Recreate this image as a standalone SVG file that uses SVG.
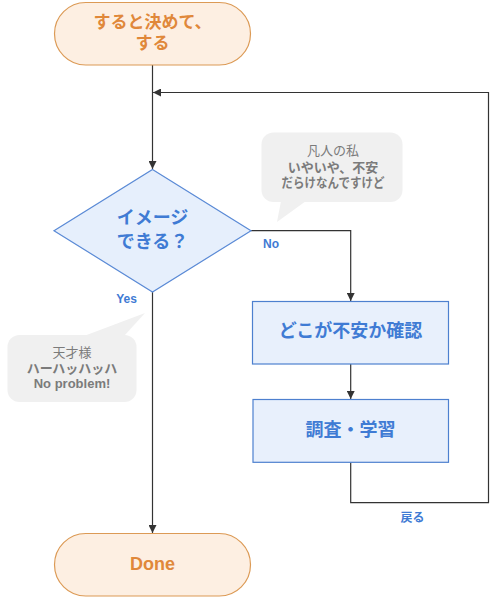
<svg xmlns="http://www.w3.org/2000/svg" width="493" height="601" viewBox="0 0 493 601">
<defs>
<style>
text{font-family:"Liberation Sans","Noto Sans CJK JP",sans-serif;text-anchor:middle;dominant-baseline:central}
.term{fill:#fdefe2;stroke:#dc9a55;stroke-width:1.2}
.termt{fill:#e0883a;font-weight:bold;font-size:17px}
.proc{fill:#e8f0fc;stroke:#4d80cf;stroke-width:1.2}
.proct{fill:#3f7bd4;font-weight:bold;font-size:18px}
.bub{fill:#f0f0f0}
.bt{fill:#7b7b7b;font-size:13px}
.bb{fill:#7b7b7b;font-size:13px;font-weight:bold}
.lbl{fill:#3f7bd4;font-weight:bold;font-size:12px}
.ln{fill:none;stroke:#333;stroke-width:1.2}
</style>
<marker id="ah" viewBox="0 0 10 10" refX="10" refY="5" markerWidth="8" markerHeight="8" markerUnits="userSpaceOnUse" orient="auto">
<path d="M0,0 L10,5 L0,10 z" fill="#333"/>
</marker>
</defs>

<g id="connectors">
<path class="ln" d="M152.5,65 V169" marker-end="url(#ah)"/>
<path class="ln" d="M152.5,292 V533" marker-end="url(#ah)"/>
<path class="ln" d="M251,230.7 H350.7 V301" marker-end="url(#ah)"/>
<path class="ln" d="M350.7,364 V399" marker-end="url(#ah)"/>
<path class="ln" d="M350.7,462.5 V502.7 H488.5 V92.5 H153" marker-end="url(#ah)"/>
<text class="lbl" x="271" y="244">No</text>
<text class="lbl" x="126.5" y="299">Yes</text>
<text class="lbl" x="412.5" y="518">戻る</text>
</g>

<g id="start">
<rect class="term" x="54.5" y="2.5" width="196" height="62.5" rx="31.25"/>
<text class="termt" x="152.5" y="22">すると決めて、</text>
<text class="termt" x="152.5" y="43.5">する</text>
</g>

<g id="decision">
<path d="M152.5,169.5 L251,230.7 L152.5,292 L54,230.7 z" fill="#e6effc" stroke="#5a8ad6" stroke-width="1.2"/>
<text class="proct" x="152.5" y="218">イメージ</text>
<text class="proct" x="152.5" y="242">できる？</text>
</g>

<g id="check">
<rect class="proc" x="252.5" y="301.5" width="196" height="62.5"/>
<text class="proct" x="350.5" y="331">どこが不安か確認</text>
</g>

<g id="study">
<rect class="proc" x="253" y="399.5" width="195.5" height="62.8"/>
<text class="proct" x="350.5" y="430">調査・学習</text>
</g>

<g id="done">
<rect class="term" x="54.5" y="533.5" width="196" height="62.5" rx="31.25"/>
<text class="termt" x="152.5" y="564" style="font-size:18px">Done</text>
</g>

<g id="bubble-normal">
<rect class="bub" x="261.5" y="132.5" width="141" height="69.5" rx="12"/>
<path class="bub" d="M281,201 L277,222 L306,201 z"/>
<text class="bt" x="333" y="150">凡人の私</text>
<text class="bb" x="333" y="167.5">いやいや、不安</text>
<text class="bb" x="333" y="182.5" textLength="103" lengthAdjust="spacingAndGlyphs">だらけなんですけど</text>
</g>

<g id="bubble-genius">
<rect class="bub" x="7.5" y="335" width="129" height="67" rx="12"/>
<path class="bub" d="M84,336 L145,313 L124,336 z"/>
<text class="bt" x="72" y="352">天才様</text>
<text class="bb" x="72" y="368">ハーハッハッハ</text>
<text class="bb" x="72" y="383.5">No problem!</text>
</g>
</svg>
